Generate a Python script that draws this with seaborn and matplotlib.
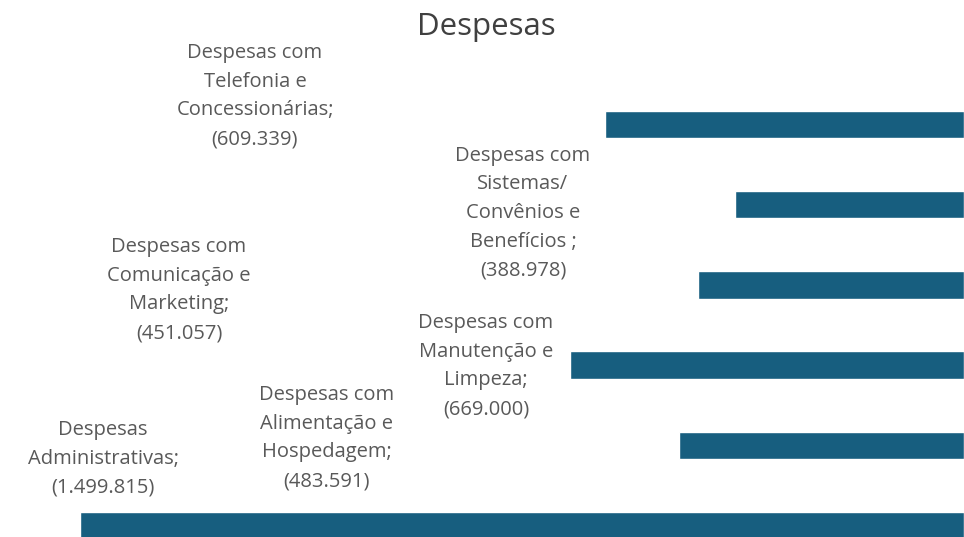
import matplotlib
matplotlib.use("Agg")
import matplotlib.pyplot as plt
import seaborn as sns
import pandas as pd

categorias = [
    "Despesas com Telefonia e Concessionárias",
    "Despesas com Sistemas/ Convênios e Benefícios",
    "Despesas com Comunicação e Marketing",
    "Despesas com Manutenção e Limpeza",
    "Despesas com Alimentação e Hospedagem",
    "Despesas Administrativas",
]
valores = [609339, 388978, 451057, 669000, 483591, 1499815]
rotulos = [
    "Despesas com\nTelefonia e\nConcessionárias;\n(609.339)",
    "Despesas com\nSistemas/\nConvênios e\nBenefícios ;\n(388.978)",
    "Despesas com\nComunicação e\nMarketing;\n(451.057)",
    "Despesas com\nManutenção e\nLimpeza;\n(669.000)",
    "Despesas com\nAlimentação e\nHospedagem;\n(483.591)",
    "Despesas\nAdministrativas;\n(1.499.815)",
]

# label placement (figure pixels, centre of each text block)
pos_rotulos = [(255, 96), (523, 213), (179, 290), (486, 366), (327, 438), (103, 459)]

df = pd.DataFrame({"categoria": categorias, "valor": valores})

sns.set_style("white")
plt.rcParams["font.family"] = ["Open Sans", "DejaVu Sans"]

W, H = 964, 537
fig = plt.figure(figsize=(W / 100, H / 100), dpi=100)
ax = fig.add_axes([0, 0, 1, 1])

sns.barplot(data=df, y="categoria", x="valor", color="#175e7f", width=0.34,
            saturation=1, orient="h", ax=ax)

# bars grow from the right edge towards the left
escala = 884 / 1499815
ax.set_xlim(W / escala, 0)
ax.set_ylim((H - 124.5) / 80.2, -124.5 / 80.2)
ax.axis("off")

for txt, (px, py) in zip(rotulos, pos_rotulos):
    fig.text(px / W, 1 - py / H, txt, ha="center", va="center",
             fontsize=14.5, color="#595959", linespacing=1.58)

fig.text(486 / W, 1 - 27 / H, "Despesas", ha="center", va="center",
         fontsize=22.5, color="#404040")

fig.savefig("out.png", dpi=100)
